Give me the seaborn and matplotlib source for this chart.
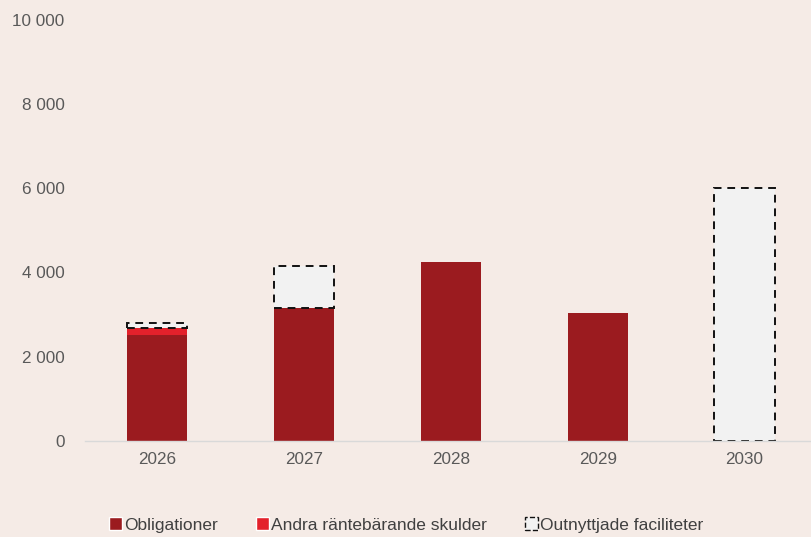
import pandas as pd
import matplotlib
matplotlib.use('Agg')
import matplotlib.pyplot as plt
from matplotlib.patches import Patch
import seaborn as sns

years = ['2026', '2027', '2028', '2029', '2030']
obligationer = [2520, 3150, 4250, 3040, 0]
andra_skulder = [160, 0, 0, 0, 0]
outnyttjade = [120, 1000, 0, 0, 6000]

df = pd.DataFrame({'year': years, 'obl': obligationer,
                   'andra': andra_skulder, 'outn': outnyttjade})
df['bottom_andra'] = df['obl']
df['bottom_outn'] = df['obl'] + df['andra']

bg = '#F5EBE6'
c_obl = '#9B1B1F'
c_andra = '#E3212B'
c_outn = '#F2F2F2'

sns.set_style('white')
plt.rcParams['font.family'] = ['Liberation Sans', 'DejaVu Sans']

fig = plt.figure(figsize=(8.12, 5.37), dpi=100, facecolor=bg)
ax = fig.add_axes([0.105, 0.179, 0.895, 0.784])
ax.set_facecolor(bg)

w = 0.41
sns.barplot(data=df, x='year', y='obl', color=c_obl, width=w, saturation=1,
            linewidth=0, ax=ax)
sns.barplot(data=df, x='year', y='andra', bottom=df['bottom_andra'], color=c_andra,
            width=w, saturation=1, linewidth=0, ax=ax)
sns.barplot(data=df, x='year', y='outn', bottom=df['bottom_outn'], color=c_outn,
            width=w, saturation=1, linewidth=0, ax=ax)

# dashed outline only for the unused facilities
n = len(years)
for p in ax.patches[2 * n:]:
    if p.get_height() > 0:
        p.set_edgecolor('#111111')
        p.set_linestyle((0, (4, 3)))
        p.set_linewidth(1.4)

ax.set_ylim(0, 10000)
ax.set_xlim(-0.49, 4.46)
ax.set_yticks(range(0, 10001, 2000))
ax.set_yticklabels([f'{v:,}'.replace(',', ' ') for v in range(0, 10001, 2000)])
ax.set_xlabel('')
ax.set_ylabel('')
ax.tick_params(axis='both', length=0, labelsize=12.3, colors='#595959')
ax.tick_params(axis='y', pad=15)
ax.tick_params(axis='x', pad=8)
for s in ['top', 'right', 'left']:
    ax.spines[s].set_visible(False)
ax.spines['bottom'].set_color('#D9D9D9')
ax.spines['bottom'].set_linewidth(1)

handles = [Patch(facecolor=c_obl, label='Obligationer'),
           Patch(facecolor=c_andra, label='Andra räntebärande skulder'),
           Patch(facecolor=c_outn, edgecolor='#111111', linestyle='--', linewidth=1,
                 label='Outnyttjade faciliteter')]
fig.legend(handles=handles, loc='center', bbox_to_anchor=(0.5, 0.022), ncol=3,
           frameon=False, fontsize=12.5, handlelength=0.75, handleheight=0.75,
           handletextpad=0.1, columnspacing=2.2, labelcolor='#404040')

fig.savefig('out.png', dpi=100, facecolor=bg)
